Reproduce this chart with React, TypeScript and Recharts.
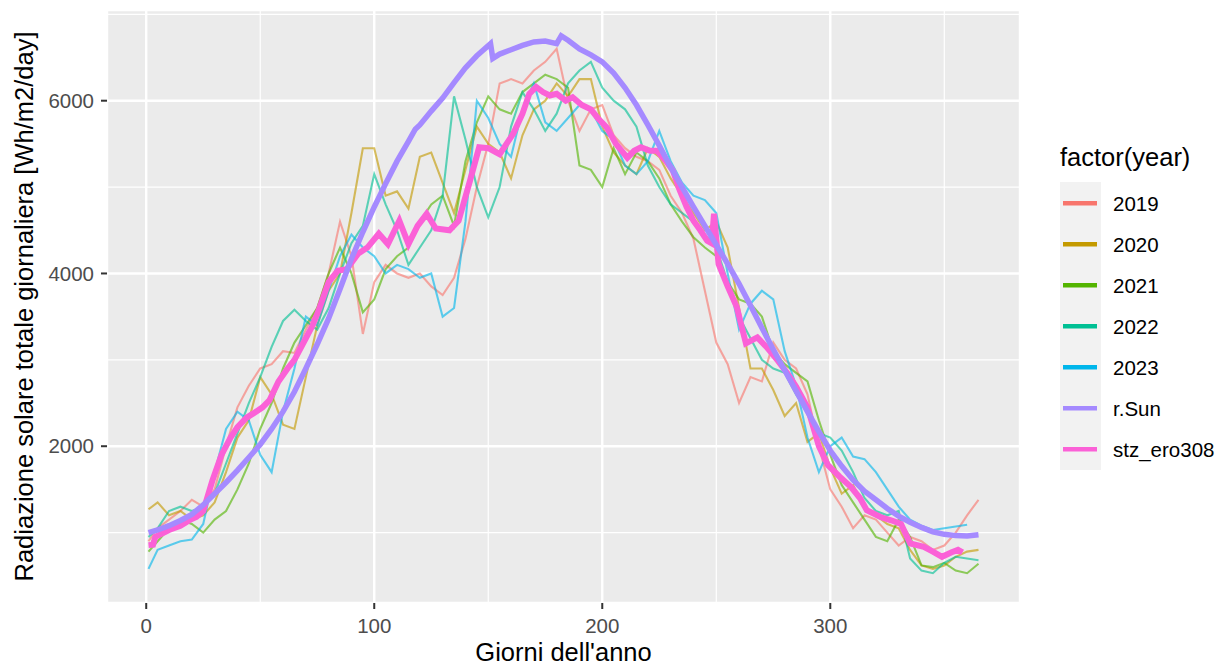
import { LineChart, Line, XAxis, YAxis, CartesianGrid, ReferenceLine } from "recharts";

// days sampled for the yearly series
const days = [
  1, 5, 10, 15, 20, 25, 30, 35, 40, 45, 50, 55, 60, 65, 70, 75, 80, 85, 90, 95, 100, 105, 110, 115, 120, 125,
  130, 135, 140, 145, 150, 155, 160, 165, 170, 175, 180, 185, 190, 195, 200, 205, 210, 215, 220, 225, 230, 235,
  240, 245, 250, 255, 260, 265, 270, 275, 280, 285, 290, 295, 300, 305, 310, 315, 320, 325, 330, 335, 340, 345,
  350, 355, 360, 365,
];

const y2019 = [
  900, 1050, 1150, 1250, 1380, 1300, 1500, 2000, 2450, 2700, 2900, 2950, 3100, 3080, 3350, 3600, 4000, 4600, 4200,
  3300, 3900, 4100, 4000, 3950, 4000, 3850, 3750, 3950, 4400, 5000, 5500, 6200, 6250, 6200, 6350, 6450, 6600, 6000,
  5650, 5900, 5950, 5600, 5450, 5350, 5300, 5200, 4900, 4700, 4400, 3800, 3200, 2950, 2500, 2800, 2750, 3200, 3000,
  2900, 2600, 2000, 1500, 1300, 1050, 1200, 1150, 1000, 850, 950, 900, 800, 850, 1000, 1200, 1380,
];
const y2020 = [
  1270, 1350, 1200, 1250, 1150, 1200, 1350, 1700, 2100, 2300, 2800, 2600, 2250, 2200, 2800, 3400, 3800, 4000, 4700,
  5450, 5450, 4900, 4950, 4750, 5350, 5400, 5050, 4700, 5200, 5700, 5500, 5400, 5100, 5600, 5900, 6000, 6200, 6050,
  6250, 6250, 5700, 5400, 5250, 5150, 5450, 5350, 5100, 4900, 4700, 4500, 4600, 4300, 3600, 2900, 2900, 2650, 2350,
  2500, 2050, 2150, 1750, 1450, 1550, 1300, 1200, 1100, 1050, 800, 620, 580, 620, 720, 780, 800,
];
const y2021 = [
  780, 900, 1050, 1150, 1100, 1000, 1150, 1250, 1500, 1800, 2200, 2500, 2900, 3200, 3400, 3600, 4000, 4300, 4000,
  3550, 3700, 4050, 4200, 4300, 4600, 4800, 4900, 4550, 5300, 5750, 6050, 5900, 5850, 6100, 6200, 6300, 6250, 6150,
  5250, 5200, 5000, 5450, 5150, 5400, 5300, 5100, 4800, 4600, 4420, 4300, 4200, 3900, 3700, 3650, 3500, 3100, 2950,
  2850, 2750, 2300, 1900, 1550, 1350, 1150, 950, 900, 1150, 950, 620, 600, 650, 560, 530, 640,
];
const y2022 = [
  950, 1050, 1250, 1300, 1250, 1300, 1450, 1800, 2150, 2500, 2800, 3150, 3450, 3580, 3450, 3350, 3600, 4000, 4350,
  4550, 5150, 4800, 4500, 4100, 4300, 4500, 4900, 6050, 5550, 5000, 4650, 5000, 5700, 6100, 5900, 5650, 5850, 6200,
  6350, 6450, 6150, 6000, 5900, 5700, 5250, 5000, 4800, 4700, 4600, 4450, 4300, 3900, 3500, 3250, 3000, 2900, 2850,
  2600, 2400, 2150, 2100, 1950, 1700, 1400, 1250, 1200, 1250, 700, 560, 530, 650, 720, 700, 680,
];
const y2023 = [
  580, 800, 850, 900, 920, 1100, 1700, 2200, 2400, 2300, 1900, 1700, 2400, 2900, 3500, 3400, 3800, 4200, 4450, 4300,
  4200, 4000, 4100, 4050, 3950, 4000, 3500, 3600, 4600, 6000, 5800, 5500, 5350, 5900, 6200, 5750, 5650, 5800, 5950,
  5900, 5650, 5550, 5250, 5150, 5300, 5650, 5300, 5050, 4900, 4850, 4700, 4000, 3350, 3650, 3800, 3700, 3100, 2700,
  2100, 1700, 2000, 2100, 1880, 1850, 1700, 1500, 1300, 1150, 1080, 1030, 1050, 1070, 1090, null,
];

// r.Sun modelled radiation
const rSunDays = [
  1, 5, 10, 15, 20, 25, 30, 35, 40, 45, 50, 55, 60, 65, 70, 75, 80, 85, 90, 95, 100, 105, 110, 115, 118, 120, 125,
  130, 135, 140, 145, 151, 152, 155, 160, 165, 170, 175, 180, 182, 185, 190, 195, 200, 205, 210, 215, 220, 225, 230,
  235, 240, 245, 250, 255, 260, 265, 270, 275, 280, 285, 290, 295, 300, 305, 310, 315, 320, 325, 330, 335, 340, 345,
  350, 355, 360, 365,
];
const rSunVals = [
  1000, 1030, 1080, 1140, 1210, 1320, 1450, 1580, 1720, 1870, 2020, 2200, 2400, 2630, 2900, 3180, 3480, 3820, 4170,
  4480, 4770, 5040, 5300, 5530, 5670, 5720, 5880, 6030, 6210, 6380, 6520, 6660, 6490, 6540, 6590, 6640, 6680, 6690,
  6660, 6750, 6700, 6600, 6530, 6450, 6320, 6150, 5950, 5720, 5480, 5230, 5000, 4770, 4550, 4330, 4110, 3880, 3630,
  3370, 3120, 2880, 2640, 2400, 2170, 1950, 1770, 1610, 1480, 1380, 1280, 1190, 1120, 1060, 1010, 980, 965, 960, 975,
];

// station stz_ero308
const stzDays = [
  1, 3, 4, 10, 15, 19, 22, 25, 29, 33, 37, 40, 44, 47, 51, 54, 58, 62, 65, 70, 73, 76, 80, 84, 88, 93, 97, 102, 106,
  111, 115, 119, 123, 127, 133, 137, 142, 146, 150, 155, 158, 161, 165, 168, 171, 174, 177, 180, 184, 187, 191, 195,
  198, 202, 206, 211, 214, 217, 221, 224, 228, 231, 234, 237, 240, 243, 246, 248, 249, 251, 255, 259, 263, 268, 272,
  277, 281, 285, 290, 295, 299, 304, 309, 313, 316, 322, 327, 331, 335, 341, 345, 349, 353, 356, 358,
];
const stzVals = [
  855, 860, 950, 1030, 1080, 1145, 1180, 1250, 1600, 1900, 2100, 2220, 2330, 2380, 2450, 2530, 2750, 2900, 3000, 3250,
  3400, 3600, 3900, 4030, 4050, 4230, 4300, 4460, 4340, 4610, 4340, 4550, 4690, 4520, 4500, 4610, 5075, 5460, 5450,
  5380, 5500, 5620, 5850, 6080, 6160, 6100, 6060, 6080, 6000, 6040, 5950, 5900, 5800, 5690, 5500, 5340, 5420, 5460,
  5420, 5420, 5300, 5190, 4960, 4770, 4610, 4500, 4380, 4350, 4690, 4110, 3850, 3610, 3190, 3260, 3150, 2990, 2850,
  2690, 2450, 2000, 1780, 1650, 1530, 1400, 1260, 1180, 1140, 1100, 875, 836, 780, 720, 770, 800, 770,
];

const xTicks = [0, 100, 200, 300];
const yTicks = [2000, 4000, 6000];
const xMinor = [50, 150, 250, 350];
const yMinor = [1000, 3000, 5000, 7000];

const yearKeys = ["2019", "2020", "2021", "2022", "2023"];
const legendNames = ["2019", "2020", "2021", "2022", "2023", "r.Sun", "stz_ero308"];
const colors = ["#F8766D", "#C49A00", "#53B400", "#00C094", "#00B6EB", "#A58AFF", "#FB61D7"];

const yearRows = days.map((d, i) => ({
  day: d,
  "2019": y2019[i],
  "2020": y2020[i],
  "2021": y2021[i],
  "2022": y2022[i],
  "2023": y2023[i],
}));
const rSunRows = rSunDays.map((d, i) => ({ day: d, value: rSunVals[i] }));
const stzRows = stzDays.map((d, i) => ({ day: d, value: stzVals[i] }));

const FONT = "'Liberation Sans', Arial, sans-serif";

export default function App() {
  return (
    <div style={{ position: "relative", width: 1228, height: 667, background: "#fff", fontFamily: FONT }}>
      <style>{"body{margin:0}"}</style>
      <LineChart
        width={1228}
        height={667}
        data={yearRows}
        margin={{ top: 10, right: 208, bottom: 0, left: 0 }}
        style={{ fontFamily: FONT }}
      >
        <CartesianGrid fill="#EBEBEB" stroke="#FFFFFF" strokeWidth={2.4} />
        {xMinor.map((v) => (
          <ReferenceLine key={"vx" + v} x={v} stroke="#FFFFFF" strokeWidth={1.2} zIndex={-90} />
        ))}
        {yMinor.map((v) => (
          <ReferenceLine key={"hy" + v} y={v} stroke="#FFFFFF" strokeWidth={1.2} zIndex={-90} />
        ))}
        <XAxis
          dataKey="day"
          type="number"
          domain={[-17.2, 383.2]}
          allowDataOverflow
          ticks={xTicks}
          height={64}
          axisLine={false}
          tickSize={6}
          tickMargin={9}
          tickLine={{ stroke: "#333333", strokeWidth: 2 }}
          tick={{ fill: "#4D4D4D", fontSize: 20.5 }}
          label={{
            content: () => (
              <text x={563.5} y={661} textAnchor="middle" fontSize={25.5} fill="#000">
                Giorni dell'anno
              </text>
            ),
          }}
        />
        <YAxis
          type="number"
          domain={[185, 7050]}
          allowDataOverflow
          ticks={yTicks}
          width={107}
          axisLine={false}
          tickSize={6}
          tickMargin={7}
          tickLine={{ stroke: "#333333", strokeWidth: 2 }}
          tick={{ fill: "#4D4D4D", fontSize: 20.5 }}
          label={{
            content: () => (
              <text transform="translate(33,306.5) rotate(-90)" textAnchor="middle" fontSize={25.5} fill="#000">
                Radiazione solare totale giornaliera [Wh/m2/day]
              </text>
            ),
          }}
        />
        {yearKeys.map((k, i) => (
          <Line
            key={k}
            dataKey={k}
            type="linear"
            stroke={colors[i]}
            strokeOpacity={0.62}
            strokeWidth={2.1}
            dot={false}
            activeDot={false}
            isAnimationActive={false}
          />
        ))}
        <Line
          data={stzRows}
          dataKey="value"
          name="stz_ero308"
          type="linear"
          stroke={colors[6]}
          strokeWidth={6}
          dot={false}
          activeDot={false}
          isAnimationActive={false}
        />
        <Line
          data={rSunRows}
          dataKey="value"
          name="r.Sun"
          type="linear"
          stroke={colors[5]}
          strokeWidth={5.5}
          dot={false}
          activeDot={false}
          isAnimationActive={false}
        />
      </LineChart>

      {/* legend, ggplot style */}
      <svg
        width={1228}
        height={667}
        style={{ position: "absolute", left: 0, top: 0, pointerEvents: "none", fontFamily: FONT }}
      >
        <text x={1060} y={166} fontSize={25.5} fill="#000">
          factor(year)
        </text>
        <rect x={1060} y={182} width={41} height={288} fill="#F2F2F2" />
        {legendNames.map((n, i) => {
          const cy = 203.3 + i * 41;
          return (
            <g key={n}>
              <line x1={1063} x2={1097} y1={cy} y2={cy} stroke={colors[i]} strokeWidth={4.5} />
              <text x={1113} y={cy + 7.3} fontSize={20.5} fill="#000">
                {n}
              </text>
            </g>
          );
        })}
      </svg>
    </div>
  );
}
